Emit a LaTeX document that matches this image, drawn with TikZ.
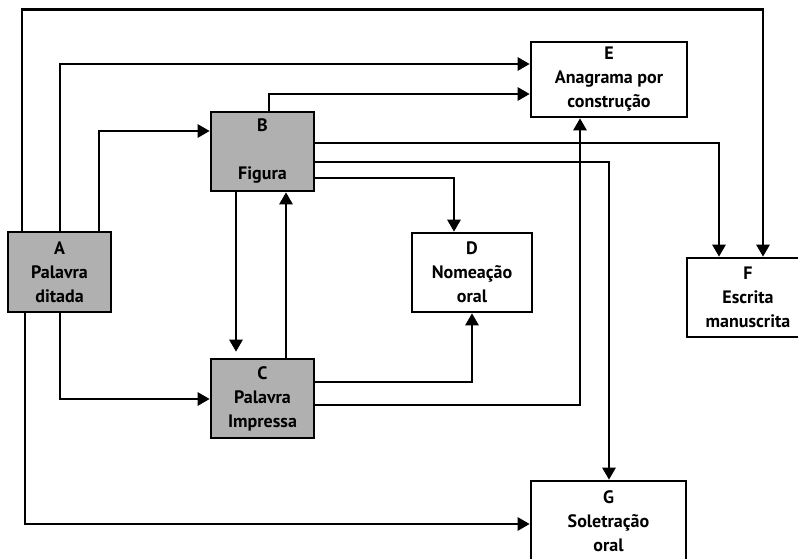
\documentclass[tikz,border=0pt]{standalone}
\usepackage{fontspec}
\setmainfont{PT Sans}
\usepackage{tikz}
\usetikzlibrary{arrows.meta}
\definecolor{boxgray}{RGB}{176,176,176}
\tikzset{block/.style={draw, line width=2.6pt, align=center, inner sep=0pt, font=\fontsize{18}{24}\selectfont\bfseries}}
\tikzset{shaded block/.style={block, fill=boxgray}}
\tikzset{flow/.style={line width=2.6pt, -{Triangle[length=12pt, width=13pt]}}}

\begin{document}
\begin{tikzpicture}[x=1pt, y=-1pt]
            \useasboundingbox (0, 0) rectangle (798, 559);
            \node[shaded block, minimum width=103pt, minimum height=80pt] (A) at (59.5, 272) {A\\Palavra\\ditada};
            \node[shaded block, minimum width=103pt, minimum height=79pt] (B) at (262.5, 151.5) {B\\ \\Figura};
            \node[shaded block, minimum width=103pt, minimum height=79pt] (C) at (262.5, 398.5) {C\\Palavra\\Impressa};
            \node[block, minimum width=120pt, minimum height=79pt] (D) at (472, 272.5) {D\\Nomeação\\oral};
            \node[block, minimum width=156pt, minimum height=75pt] (E) at (609, 79.5) {E\\Anagrama por\\construção};
            \node[block, minimum width=122pt, minimum height=79pt] (F) at (748, 297.5) {F\\Escrita\\manuscrita};
            \node[block, minimum width=155pt, minimum height=80pt] (G) at (608.5, 521) {G\\Soletração\\oral};
            % from A
            \draw[flow] ([xshift=-37.5pt]A.north) -- ++(0, -221) -| ([xshift=15pt]F.north);
            \draw[flow] ([xshift=0.5pt]A.north) |- ([yshift=15.5pt]E.west);
            \draw[flow] ([xshift=39.5pt]A.north) |- ([yshift=20.5pt]B.west);
            \draw[flow] ([xshift=0.5pt]A.south) |- ([yshift=-0.5pt]C.west);
            \draw[flow] ([xshift=-34.5pt]A.south) |- ([yshift=-3pt]G.west);
            % from B
            \draw[flow] ([xshift=6.5pt]B.north) |- ([yshift=-14.5pt]E.west);
            \draw[flow] ([yshift=8.5pt]B.east) -| ([xshift=-29pt]F.north);
            \draw[flow] ([yshift=-10.5pt]B.east) -| ([xshift=0.5pt]G.north);
            \draw[flow] ([yshift=-26.5pt]B.east) -| ([xshift=-18pt]D.north);
            \draw[flow, shorten >=6pt] ([xshift=-26.5pt]B.south) -- ([xshift=-26.5pt]C.north);
            % from C
            \draw[flow] ([xshift=23.5pt]C.north) -- ([xshift=23.5pt]B.south);
            \draw[flow] ([yshift=16.5pt]C.east) -| (D.south);
            \draw[flow] ([yshift=-6.5pt]C.east) -| ([xshift=-29pt]E.south);
        \end{tikzpicture}
\end{document}
